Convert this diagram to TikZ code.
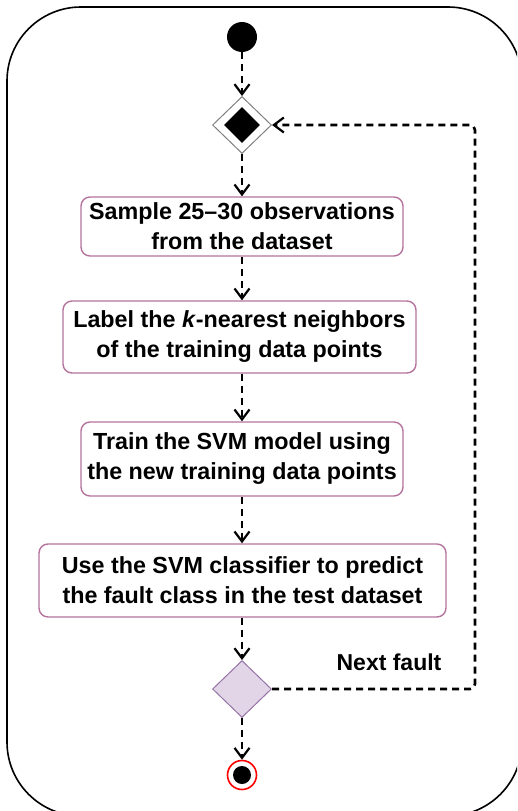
\documentclass[tikz,border=0pt]{standalone}
\usepackage{fontspec}
\setmainfont{Liberation Sans}
\usetikzlibrary{arrows.meta,shapes.geometric}
\definecolor{boxborder}{HTML}{B5739D}
\definecolor{decfill}{HTML}{E1D5E7}
\definecolor{decborder}{HTML}{9673A6}
\tikzset{
  stepbox/.style={draw=boxborder, line width=1.4pt, rounded corners=9pt, fill=white,
    align=center, font=\bfseries\fontsize{23.3}{30}\selectfont, inner sep=0pt},
  flow/.style={line width=2.6pt, dash pattern=on 7pt off 5pt,
    -{Straight Barb[length=10pt,width=15pt,line width=2.2pt]}},
  lbl/.style={font=\bfseries\fontsize{23}{26}\selectfont}
}
\begin{document}
\begin{tikzpicture}[x=1pt,y=-1pt]
\useasboundingbox (0,0) rectangle (517,811);
\begin{scope}
  \clip (0,0) rectangle (517,811);
  \draw[line width=1.6pt, rounded corners=74pt] (7,7) rectangle (522,816);
\end{scope}

\node[circle, fill=black, minimum size=30pt, inner sep=0pt] (start) at (242,37) {};

\node[diamond, draw=gray, line width=1pt, fill=white, minimum width=59pt, minimum height=57pt, inner sep=0pt] (d1) at (242,125) {};
\node[diamond, fill=black, minimum width=36pt, minimum height=36pt, inner sep=0pt] (d1in) at (242,125) {};

\node[stepbox, minimum width=322pt, minimum height=59pt] (b1) at (242,226.5) {Sample 25--30 observations\\from the dataset};
\node[stepbox, minimum width=353pt, minimum height=72pt] (b2) at (239.5,337) {Label the \textit{k}-nearest neighbors\\of the training data points};
\node[stepbox, minimum width=322pt, minimum height=74pt] (b3) at (242,459) {Train the SVM model using\\the new training data points};
\node[stepbox, minimum width=407pt, minimum height=73pt] (b4) at (242.5,580.5) {Use the SVM classifier to predict\\the fault class in the test dataset};

\node[diamond, draw=decborder, line width=1pt, fill=decfill, minimum width=59pt, minimum height=57pt, inner sep=0pt] (d2) at (242,689) {};

\node[circle, draw=red, line width=1.6pt, fill=white, minimum size=29pt, inner sep=0pt] (end) at (242,775) {};
\node[circle, fill=black, minimum size=18pt, inner sep=0pt] (endin) at (242,775) {};

\node[lbl] (nf) at (389,662) {Next fault};

\coordinate (lr) at (475,689);
\coordinate (ur) at (475,125);

\draw[flow] (start.south) -- (d1.north);
\draw[flow] (d1.south) -- (b1.north);
\draw[flow] (b1.south) -- (b2.north -| b1.south);
\draw[flow] (b2.south -| b1.south) -- (b3.north);
\draw[flow] (b3.south) -- (b4.north -| b3.south);
\draw[flow] (b4.south -| d2.north) -- (d2.north);
\draw[flow] (d2.south) -- (end.north);
\draw[flow, rounded corners=5pt] (d2.east) -- (lr) -- (ur) -- (d1.east);
\end{tikzpicture}
\end{document}
